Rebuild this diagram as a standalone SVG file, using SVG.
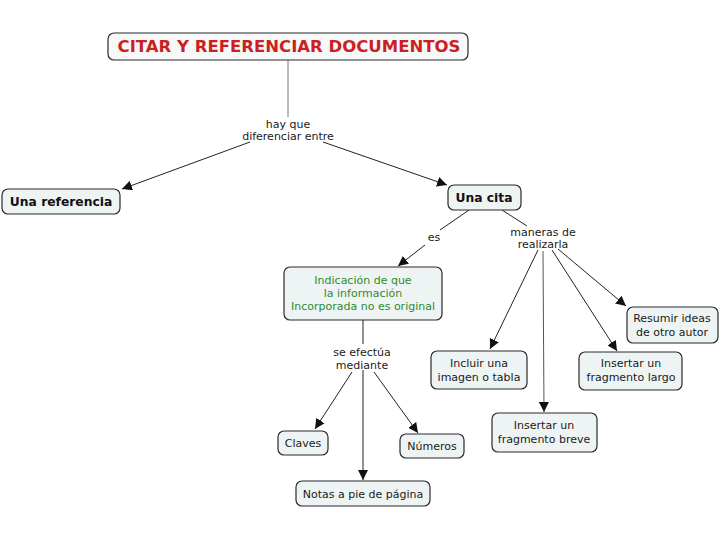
<svg xmlns="http://www.w3.org/2000/svg" width="720" height="540" viewBox="0 0 720 540">
<style>
.box{fill:#eef4f4;stroke:#2a2a2a;stroke-width:1.2}
.t{font-family:"DejaVu Sans",Verdana,sans-serif;font-size:11px;fill:#1a1a1a;text-anchor:middle}
.b{font-weight:bold;font-size:12.3px;fill:#111}
.g{fill:#2e8b2e}
.lbl{font-family:"DejaVu Sans",Verdana,sans-serif;font-size:11px;fill:#1a1a1a;text-anchor:middle}
.c{stroke:#222;stroke-width:1;fill:none}
</style>
<defs>
<marker id="ah" viewBox="0 0 10 10" refX="10" refY="5" markerWidth="10" markerHeight="10" markerUnits="userSpaceOnUse" orient="auto">
<path d="M0,0 L10,5 L0,10 z" fill="#111"/>
</marker>
</defs>
<rect width="720" height="540" fill="#ffffff"/>
<g id="connectors">
<line class="c" x1="288" y1="60" x2="288" y2="117" style="stroke:#777"/>
<line class="c" x1="250" y1="142" x2="122" y2="189" marker-end="url(#ah)"/>
<line class="c" x1="323" y1="142" x2="447" y2="185" marker-end="url(#ah)"/>
<line class="c" x1="469" y1="210" x2="440" y2="230"/>
<line class="c" x1="425" y1="245" x2="398" y2="266" marker-end="url(#ah)"/>
<line class="c" x1="502" y1="210" x2="527" y2="226"/>
<line class="c" x1="538" y1="250" x2="490" y2="349" marker-end="url(#ah)"/>
<line class="c" x1="543" y1="251" x2="544" y2="412" marker-end="url(#ah)" style="stroke:#555"/>
<line class="c" x1="552" y1="250" x2="617" y2="351" marker-end="url(#ah)"/>
<line class="c" x1="558" y1="249" x2="626" y2="306" marker-end="url(#ah)"/>
<line class="c" x1="363" y1="320" x2="363" y2="344"/>
<line class="c" x1="352" y1="372" x2="315" y2="429" marker-end="url(#ah)"/>
<line class="c" x1="363" y1="370" x2="363" y2="480" marker-end="url(#ah)"/>
<line class="c" x1="374" y1="372" x2="418" y2="433" marker-end="url(#ah)"/>
</g>
<g id="lbl-hayque">
<text class="lbl" x="288" y="128">hay que</text>
<text class="lbl" x="288" y="140">diferenciar entre</text>
</g>
<g id="lbl-es"><text class="lbl" x="434" y="241">es</text></g>
<g id="lbl-maneras">
<text class="lbl" x="543" y="236">maneras de</text>
<text class="lbl" x="543" y="248">realizarla</text>
</g>
<g id="lbl-efectua">
<text class="lbl" x="362" y="356">se efectúa</text>
<text class="lbl" x="362" y="369">mediante</text>
</g>
<g id="n-title">
<rect class="box" x="108" y="33" width="360" height="27" rx="6" style="fill:#f7f8f8"/>
<text x="289" y="52" style="font-family:'DejaVu Sans',Verdana,sans-serif;font-weight:bold;font-size:16.5px;fill:#cc1f1f;text-anchor:middle">CITAR Y REFERENCIAR DOCUMENTOS</text>
</g>
<g id="n-referencia">
<rect class="box" x="2" y="189" width="118" height="25" rx="6"/>
<text class="t b" x="61" y="206">Una referencia</text>
</g>
<g id="n-cita">
<rect class="box" x="448" y="185" width="73" height="25" rx="6"/>
<text class="t b" x="484" y="202">Una cita</text>
</g>
<g id="n-indicacion">
<rect class="box" x="284" y="267" width="158" height="53" rx="6"/>
<text class="t g" x="363" y="284">Indicación de que</text>
<text class="t g" x="363" y="297">la información</text>
<text class="t g" x="363" y="310">Incorporada no es original</text>
</g>
<g id="n-resumir">
<rect class="box" x="627" y="307" width="91" height="36" rx="6"/>
<text class="t" x="672" y="322">Resumir ideas</text>
<text class="t" x="672" y="336">de otro autor</text>
</g>
<g id="n-largo">
<rect class="box" x="579" y="352" width="103" height="38" rx="6"/>
<text class="t" x="631" y="367">Insertar un</text>
<text class="t" x="631" y="381">fragmento largo</text>
</g>
<g id="n-imagen">
<rect class="box" x="431" y="351" width="96" height="38" rx="6"/>
<text class="t" x="479" y="367">Incluir una</text>
<text class="t" x="479" y="381">imagen o tabla</text>
</g>
<g id="n-breve">
<rect class="box" x="492" y="413" width="105" height="39" rx="6"/>
<text class="t" x="544" y="429">Insertar un</text>
<text class="t" x="544" y="443">fragmento breve</text>
</g>
<g id="n-claves">
<rect class="box" x="278" y="431" width="50" height="24" rx="6"/>
<text class="t" x="303" y="447">Claves</text>
</g>
<g id="n-numeros">
<rect class="box" x="400" y="434" width="64" height="24" rx="6"/>
<text class="t" x="432" y="450">Números</text>
</g>
<g id="n-notas">
<rect class="box" x="296" y="481" width="134" height="25" rx="6"/>
<text class="t" x="363" y="498">Notas a pie de página</text>
</g>
</svg>
